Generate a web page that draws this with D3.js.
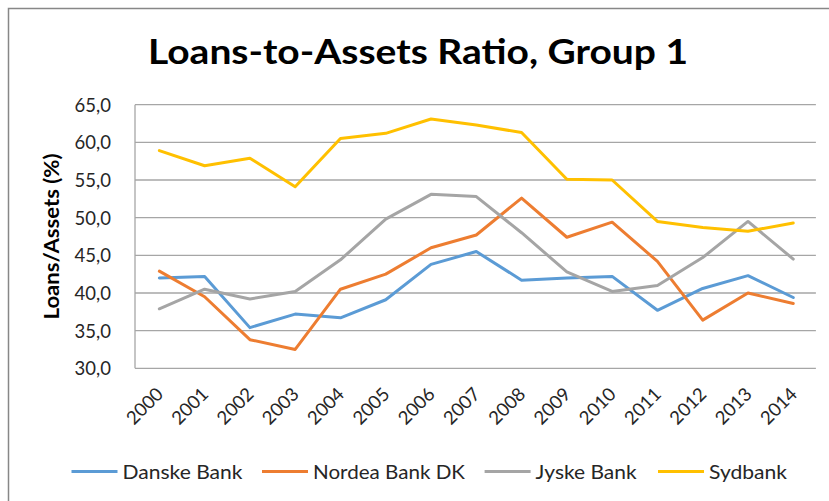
<!DOCTYPE html>
<html><head><meta charset="utf-8">
<script src="https://cdn.jsdelivr.net/npm/d3@7"></script>
<style>html,body{margin:0;padding:0;background:#fff;}</style>
</head><body>
<svg id="c" width="829" height="501"></svg>
<script>
const years = ["2000","2001","2002","2003","2004","2005","2006","2007","2008","2009","2010","2011","2012","2013","2014"];
const danske = [42.0,42.2,35.4,37.2,36.7,39.1,43.8,45.5,41.7,42.0,42.2,37.7,40.6,42.3,39.4];
const nordea = [42.9,39.5,33.8,32.5,40.5,42.5,46.0,47.7,52.6,47.4,49.4,44.2,36.4,40.0,38.6];
const jyske  = [37.9,40.5,39.2,40.2,44.4,49.8,53.1,52.8,48.0,42.8,40.2,41.0,44.7,49.5,44.5];
const sydbank= [58.9,56.9,57.9,54.1,60.5,61.2,63.1,62.3,61.3,55.1,55.0,49.5,48.7,48.2,49.3];
const seriesNames = ["Danske Bank","Nordea Bank DK","Jyske Bank","Sydbank"];
const yTicks = [30,35,40,45,50,55,60,65];
const colors = ["#5B9BD5","#ED7D31","#A5A5A5","#FFC000"];
const series = [danske, nordea, jyske, sydbank];

const svg = d3.select("#c");
const font = "Lato, 'Open Sans', sans-serif";
// outer frame
svg.append("rect").attr("x",8.5).attr("y",8.5).attr("width",840).attr("height",520)
  .attr("fill","none").attr("stroke","#878787").attr("stroke-width",1.5);

const L=136.7, R=815.9, T=104.7, B=368.3;
const x = d3.scaleBand().domain(years).range([L,R]);
const y = d3.scaleLinear().domain([30,65]).range([B,T]);

// title
svg.append("text").attr("x",418).attr("y",64).attr("text-anchor","middle")
  .attr("font-family",font).attr("font-weight","bold").attr("font-size",35).attr("fill","#000")
  .attr("textLength",540).attr("lengthAdjust","spacingAndGlyphs")
  .text("Loans-to-Assets Ratio, Group 1");

// gridlines
svg.append("g").selectAll("line").data(yTicks).join("line")
  .attr("x1",L-1.7).attr("x2",R).attr("y1",d=>y(d)).attr("y2",d=>y(d))
  .attr("stroke","#a6a6a6").attr("stroke-width",1.3);
svg.append("line").attr("x1",L-1.7).attr("x2",L-1.7).attr("y1",T).attr("y2",B)
  .attr("stroke","#a6a6a6").attr("stroke-width",1.3);

// y axis labels
const yAxis = d3.axisLeft(y).tickValues(yTicks).tickSize(0).tickPadding(0)
  .tickFormat(d=>d3.format(".1f")(d).replace(".",","));
const gy = svg.append("g").attr("transform",`translate(111,0)`).call(yAxis);
gy.select(".domain").remove();
gy.selectAll("text").attr("font-family",font).attr("font-size",18.5).attr("fill","#262626").attr("dy","0.35em");

// y axis title
svg.append("text").attr("transform",`translate(59,${(T+B)/2}) rotate(-90)`)
  .attr("text-anchor","middle").attr("font-family",font).attr("font-weight","bold")
  .attr("font-size",20).attr("fill","#000")
  .attr("textLength",166).attr("lengthAdjust","spacingAndGlyphs")
  .text("Loans/Assets (%)");

// x axis labels
const xAxis = d3.axisBottom(x).tickSize(0).tickPadding(0);
const gx = svg.append("g").attr("transform",`translate(0,${B})`).call(xAxis);
gx.select(".domain").remove();
gx.selectAll("text").attr("font-family",font).attr("font-size",18.5).attr("fill","#262626")
  .attr("text-anchor","end").attr("dy",0)
  .attr("transform","translate(5,27) rotate(-45)");

// lines
const line = d3.line().x((d,i)=>x(years[i])+x.bandwidth()/2).y(d=>y(d));
svg.append("g").selectAll("path").data(series).join("path")
  .attr("d",d=>line(d)).attr("fill","none").attr("stroke",(d,i)=>colors[i])
  .attr("stroke-width",3).attr("stroke-linejoin","round").attr("stroke-linecap","round");

// legend
const legX = [71.5, 262, 484.6, 658];
const legW = [120, 152, 101, 78];
const lg = svg.append("g").selectAll("g").data(seriesNames).join("g")
  .attr("transform",(d,i)=>`translate(${legX[i]},471.5)`);
lg.append("line").attr("x1",0).attr("x2",46).attr("y1",0).attr("y2",0)
  .attr("stroke",(d,i)=>colors[i]).attr("stroke-width",3);
lg.append("text").attr("x",51).attr("y",0).attr("dy","0.35em").attr("font-family",font)
  .attr("font-size",20).attr("fill","#262626")
  .attr("textLength",(d,i)=>legW[i]).attr("lengthAdjust","spacingAndGlyphs").text(d=>d);
</script>
</body></html>
